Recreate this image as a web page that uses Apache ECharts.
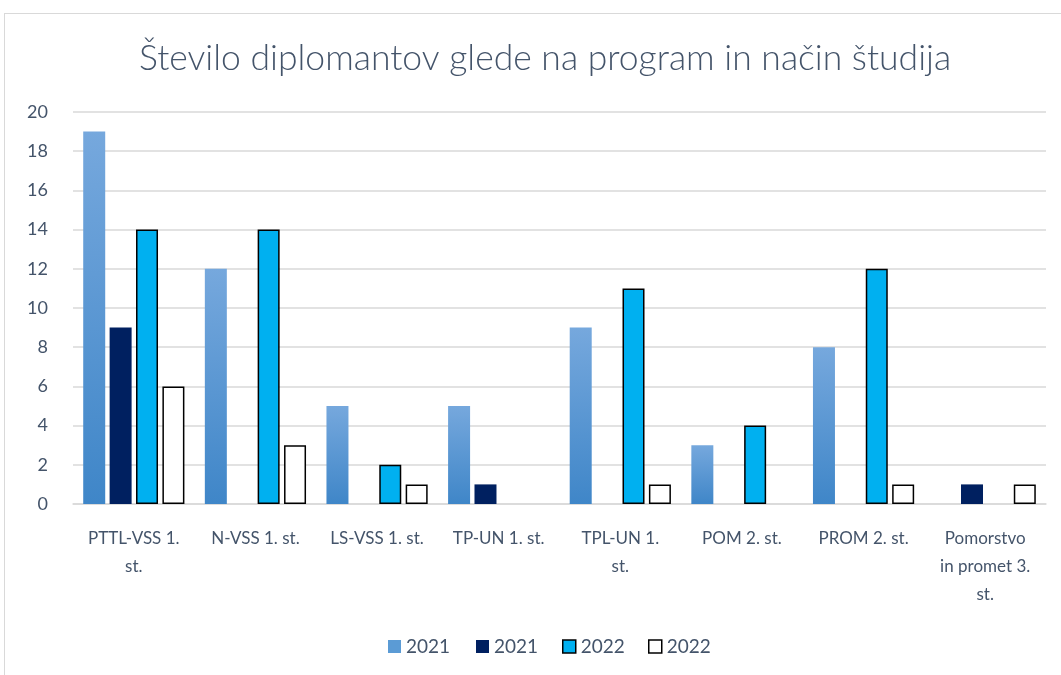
<!DOCTYPE html>
<html>
<head>
<meta charset="utf-8">
<script src="https://cdn.jsdelivr.net/npm/echarts@6/dist/echarts.min.js"></script>
<style>
  html, body { margin: 0; padding: 0; background: #fff; }
  /* okvir grafa */
  .frame { position: absolute; left: 4px; top: 13px; width: 1070px; height: 680px; border: 1px solid #d9d9d9; box-sizing: border-box; }
  #chart { position: absolute; left: 0; top: 0; width: 1061px; height: 675px; }
</style>
</head>
<body>
<div class="frame"></div>
<div id="chart"></div>
<script>
// programi
const categories = ['PTTL-VSS 1. st.', 'N-VSS 1. st.', 'LS-VSS 1. st.', 'TP-UN 1. st.', 'TPL-UN 1. st.', 'POM 2. st.', 'PROM 2. st.', 'Pomorstvo in promet 3. st.']
// napisi na osi x (prelomi kot v originalu)
const tickLabels = ['PTTL-VSS 1.\nst.', 'N-VSS 1. st.', 'LS-VSS 1. st.', 'TP-UN 1. st.', 'TPL-UN 1.\nst.', 'POM 2. st.', 'PROM 2. st.', 'Pomorstvo\nin promet 3.\nst.']
// vrednosti po serijah (null = ni stolpca)
const s2021a = [19, 12, 5, 5, 9, 3, 8, null]
const s2021b = [9, null, null, 1, null, null, null, 1]
const s2022a = [14, 14, 2, null, 11, 4, 12, null]
const s2022b = [6, 3, 1, null, 1, null, 1, 1]
const seriesNames = ['2021', '2021', '2022', '2022']
const yTicks = { min: 0, max: 20, interval: 2 }

const textColor = '#44546a'
const font = 'Lato'
const myChart = echarts.init(document.getElementById('chart'))

const gradBlue = new echarts.graphic.LinearGradient(0, 0, 0, 1, [
  { offset: 0, color: '#76a8dd' },
  { offset: 1, color: '#3f86c8' }
])

const seriesStyles = [
  { color: gradBlue },
  { color: '#002060' },
  { color: '#00b0f0', borderColor: '#000', borderWidth: 1.5 },
  { color: '#fff', borderColor: '#000', borderWidth: 1.5 }
]
const legendStyles = [
  { color: '#5b9bd5' },
  { color: '#002060' },
  { color: '#00b0f0', borderColor: '#000', borderWidth: 1.5 },
  { color: '#fff', borderColor: '#000', borderWidth: 1.5 }
]

const option = {
  animation: false,
  title: {
    text: 'Število diplomantov glede na program in način študija',
    left: 134,
    top: 36,
    textStyle: { fontFamily: font, fontWeight: 300, fontSize: 35.5, color: textColor }
  },
  // legenda ima dve enaki imeni, zato 4 ločene legende
  legend: seriesNames.map((name, i) => ({
    bottom: 14,
    left: [383, 471, 557, 643][i],
    itemWidth: 13,
    itemHeight: 13,
    itemGap: 6,
    textStyle: { fontFamily: font, fontSize: 19, color: textColor },
    selectedMode: false,
    data: [{ name: name, icon: 'rect', itemStyle: legendStyles[i] }]
  })),
  grid: { left: 73, right: 15, top: 112, bottom: 171 },
  xAxis: {
    type: 'category',
    data: categories,
    axisTick: { show: false },
    axisLine: { lineStyle: { color: '#d9d9d9', width: 1.5 } },
    axisLabel: {
      interval: 0,
      margin: 21,
      color: textColor,
      fontFamily: font,
      fontSize: 17,
      lineHeight: 28,
      formatter: (v, i) => tickLabels[i]
    }
  },
  yAxis: {
    type: 'value',
    min: yTicks.min,
    max: yTicks.max,
    interval: yTicks.interval,
    axisLine: { show: false },
    axisTick: { show: false },
    splitLine: { lineStyle: { color: '#d9d9d9', width: 1.5 } },
    axisLabel: { color: textColor, fontFamily: font, fontSize: 18, margin: 25 }
  },
  series: seriesNames.map((name, i) => ({
    name: name,
    type: 'bar',
    data: [s2021a, s2021b, s2022a, s2022b][i],
    barWidth: 22,
    barGap: '20%',
    itemStyle: seriesStyles[i]
  }))
}

myChart.setOption(option)
</script>
</body>
</html>
